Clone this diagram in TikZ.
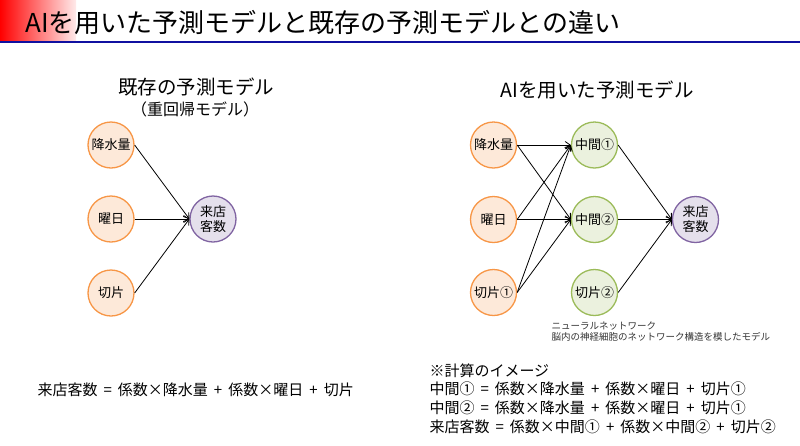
\documentclass[tikz,border=0pt]{standalone}
\usepackage{fontspec}
\setmainfont{Noto Sans CJK JP}
\newfontfamily\eqfont[WordSpace=1.8]{Noto Sans CJK JP}
\usetikzlibrary{arrows.meta,calc}
\definecolor{inline}{HTML}{F79646}
\definecolor{infill}{HTML}{FDE9D9}
\definecolor{midline}{HTML}{9BBB59}
\definecolor{midfill}{HTML}{EBF1DE}
\definecolor{outline}{HTML}{8064A2}
\definecolor{outfill}{HTML}{E5E0EC}
\definecolor{barblue}{HTML}{1010A0}
\tikzset{
  unit/.style={circle,draw,line width=1.3pt,minimum size=46pt,inner sep=0pt,align=center,font=\fontsize{13}{15}\selectfont},
  inp/.style={unit,draw=inline,fill=infill},
  mid/.style={unit,draw=midline,fill=midfill},
  outp/.style={unit,draw=outline,fill=outfill},
  conn/.style={-{Straight Barb[length=5pt,width=7pt]},line width=0.8pt},
  head/.style={font=\fontsize{19.5}{22}\selectfont},
  formula/.style={anchor=west,font=\eqfont\fontsize{15}{18.7}\selectfont,align=left}
}
\begin{document}
\begin{tikzpicture}[x=1pt,y=-1pt]
\useasboundingbox (0,0) rectangle (800,445);
\shade[left color=red,right color=red!8] (0,0) rectangle (76,40);
\draw[barblue,line width=2.5pt] (0,42)--(800,42);
\node[anchor=base west,font=\fontsize{26}{28}\selectfont] (title) at (22,32) {AIを用いた予測モデルと既存の予測モデルとの違い};
\node[head] (oldhead) at (196,87) {既存の予測モデル};
\node[font=\fontsize{16}{18}\selectfont] (oldsub) at (195,109) {（重回帰モデル）};
\node[head] (aihead) at (597,90) {AIを用いた予測モデル};
\node[inp] (rain) at (111,145) {降水量};
\node[inp] (day) at (111,219) {曜日};
\node[inp] (icpt) at (111,293) {切片};
\node[outp] (visit) at (213,219) {来店\\客数};
\draw[conn] (rain.east)--(visit.west);
\draw[conn] (day.east)--(visit.west);
\draw[conn] (icpt.east)--(visit.west);
\node[inp] (airain) at (493.5,145) {降水量};
\node[inp] (aiday) at (493.5,219.5) {曜日};
\node[inp] (aiicpt) at (493.5,292.5) {切片①};
\node[mid] (midA) at (594.5,145) {中間①};
\node[mid] (midB) at (594.5,219.5) {中間②};
\node[mid] (midC) at (594.5,292.5) {切片②};
\node[outp] (aivisit) at (695.5,219.5) {来店\\客数};
\draw[conn] (airain.east)--(midA.west);
\draw[conn] (airain.east)--(midB.west);
\draw[conn] (aiday.east)--(midA.west);
\draw[conn] (aiday.east)--(midB.west);
\draw[conn] (aiicpt.east)--(midA.west);
\draw[conn] (aiicpt.east)--(midB.west);
\draw[conn] (midA.east)--(aivisit.west);
\draw[conn] (midB.east)--(aivisit.west);
\draw[conn] (midC.east)--(aivisit.west);
\node[anchor=west,align=left,text=black!80,font=\fontsize{9.5}{11}\selectfont] (nncap) at (548,332) {ニューラルネットワーク\\脳内の神経細胞のネットワーク構造を模したモデル};
\node[formula] (oldeq) at (34,390) {来店客数 = 係数×降水量 + 係数×曜日 + 切片};
\node[formula,anchor=north west] (aieq) at (426,360) {※計算のイメージ\\中間① = 係数×降水量 + 係数×曜日 + 切片①\\中間② = 係数×降水量 + 係数×曜日 + 切片①\\来店客数 = 係数×中間① + 係数×中間② + 切片②};
\end{tikzpicture}
\end{document}
